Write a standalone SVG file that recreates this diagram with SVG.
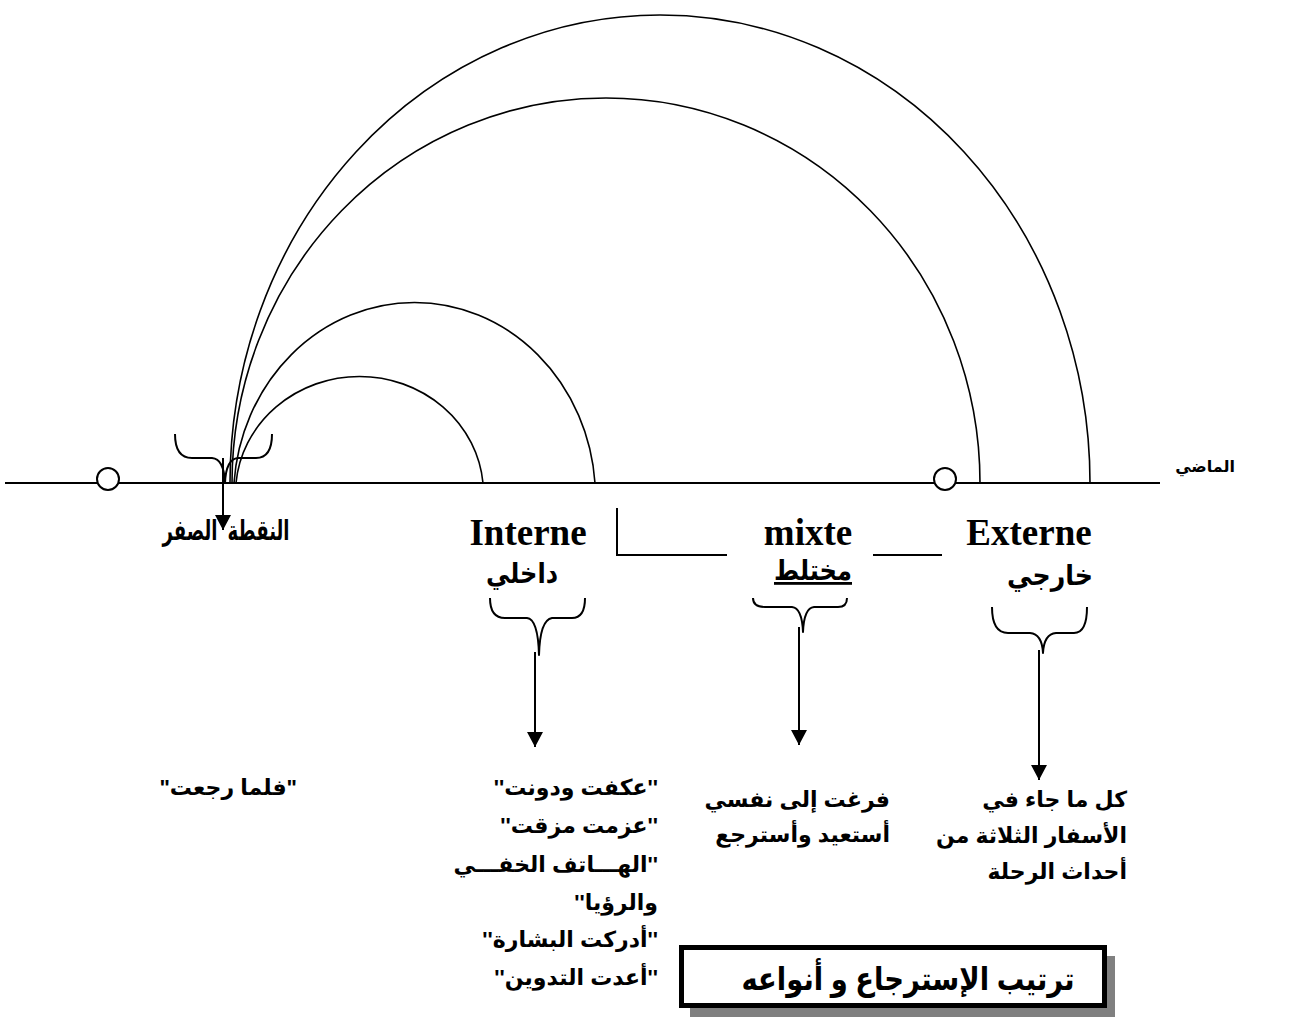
<svg xmlns="http://www.w3.org/2000/svg" width="1296" height="1025" viewBox="0 0 1296 1025">
  <defs>
    <marker id="arrow" markerWidth="16" markerHeight="16" refX="15" refY="8" orient="auto" markerUnits="userSpaceOnUse" viewBox="0 0 16 16">
      <path d="M0,0 L15,8 L0,16 Z" fill="#000"/>
    </marker>
    <style>
      .line { fill: none; stroke: #000; stroke-width: 2; }
      .arc { fill: none; stroke: #000; stroke-width: 1.6; }
      .brace { fill: none; stroke: #000; stroke-width: 2; stroke-linejoin: round; }
      .arr { fill: none; stroke: #000; stroke-width: 2; }
      .dot { fill: #fff; stroke: #000; stroke-width: 2; }
      .lat { font-family: "Liberation Serif", "Times New Roman", serif; font-weight: bold; font-size: 37px; fill: #000; }
      .ar { font-family: "Liberation Sans", "DejaVu Sans", sans-serif; font-weight: bold; fill: #000; direction: rtl; }
      .lbl { font-size: 28px; }
      .body { font-size: 22px; }
    </style>
  </defs>

  <!-- time axis -->
  <g id="axis">
    <line class="line" x1="5" y1="483" x2="1160" y2="483"/>
    <circle class="dot" cx="108" cy="479" r="11"/>
    <circle class="dot" cx="945" cy="479" r="11"/>
    <text class="ar" x="1235" y="472" font-size="16" text-anchor="start">الماضي</text>
  </g>

  <!-- retrospection arcs from the zero point -->
  <g id="arcs">
    <path class="arc" d="M230,483 A430,468 0 0 1 1090,483"/>
    <path class="arc" d="M232,483 A374,385 0 0 1 980,483"/>
    <path class="arc" d="M234,483 A181,195 0 0 1 595,483"/>
    <path class="arc" d="M236,483 A124,117 0 0 1 483,483"/>
  </g>

  <!-- zero point -->
  <g id="zero">
    <path class="brace" d="M175,434 Q175,458 192,458 L212,458 Q224,459 225,483 Q226,459 238,458 L256,458 Q272,458 272,434"/>
    <text class="ar lbl" x="226" y="540" text-anchor="middle" textLength="127" lengthAdjust="spacingAndGlyphs" xml:space="preserve">النقطة  الصفر</text>
  </g>

  <!-- internal -->
  <g id="interne">
    <text class="lat" x="528" y="545" text-anchor="middle">Interne</text>
    <text class="ar lbl" x="522" y="583" text-anchor="middle" textLength="72" lengthAdjust="spacingAndGlyphs">داخلي</text>
    <path class="brace" d="M490,598 Q490,618 505,618 L527,618 Q538,619 539,655 Q540,620 552,618 L572,618 Q585,618 585,598"/>
  </g>

  <!-- mixed -->
  <g id="mixte">
    <text class="lat" x="808" y="545" text-anchor="middle">mixte</text>
    <text class="ar lbl" x="813" y="580" text-anchor="middle" textLength="78" lengthAdjust="spacingAndGlyphs" style="text-decoration: underline">مختلط</text>
    <path class="line" d="M617,508 L617,555 L727,555"/>
    <line class="line" x1="873" y1="555" x2="942" y2="555"/>
    <path class="brace" d="M753,598 Q753,607 765,607 L792,607 Q802,608 803,632 Q804,608 814,607 L838,607 Q847,607 847,598"/>
  </g>

  <!-- external -->
  <g id="externe">
    <text class="lat" x="1029" y="545" text-anchor="middle">Externe</text>
    <text class="ar lbl" x="1050" y="585" text-anchor="middle" textLength="86" lengthAdjust="spacingAndGlyphs">خارجي</text>
    <path class="brace" d="M992,607 Q992,633 1008,633 L1030,633 Q1042,634 1043,653 Q1044,634 1056,633 L1074,633 Q1087,633 1087,607"/>
  </g>

  <!-- connectors -->
  <g id="connectors">
    <line class="arr" x1="223" y1="458" x2="223" y2="530" marker-end="url(#arrow)"/>
    <line class="arr" x1="535" y1="652" x2="535" y2="747" marker-end="url(#arrow)"/>
    <line class="arr" x1="799" y1="627" x2="799" y2="745" marker-end="url(#arrow)"/>
    <line class="arr" x1="1039" y1="650" x2="1039" y2="780" marker-end="url(#arrow)"/>
  </g>

  <!-- examples -->
  <g id="ex-zero">
    <text class="ar body" x="297" y="795" text-anchor="start">"فلما رجعت"</text>
  </g>
  <g id="ex-interne">
    <text class="ar body" x="658" y="795" text-anchor="start">''عكفت ودونت''</text>
    <text class="ar body" x="658" y="833" text-anchor="start">''عزمت مزقت''</text>
    <text class="ar body" x="658" y="872" text-anchor="start">''الهـــاتف الخفـــي</text>
    <text class="ar body" x="658" y="910" text-anchor="start">والرؤيا''</text>
    <text class="ar body" x="658" y="947" text-anchor="start">''أدركت البشارة''</text>
    <text class="ar body" x="658" y="985" text-anchor="start">''أعدت التدوين''</text>
  </g>
  <g id="ex-mixte">
    <text class="ar body" x="890" y="807" text-anchor="start">فرغت إلى نفسي</text>
    <text class="ar body" x="890" y="842" text-anchor="start">أستعيد وأسترجع</text>
  </g>
  <g id="ex-externe">
    <text class="ar body" x="1127" y="807" text-anchor="start">كل ما جاء في</text>
    <text class="ar body" x="1127" y="843" text-anchor="start">الأسفار الثلاثة من</text>
    <text class="ar body" x="1127" y="879" text-anchor="start">أحداث الرحلة</text>
  </g>

  <!-- title -->
  <g id="title">
    <rect x="690" y="956" width="425" height="61" fill="#808080"/>
    <rect x="681.5" y="947.5" width="423" height="58" fill="#fff" stroke="#000" stroke-width="5"/>
    <text class="ar" x="908" y="990" text-anchor="middle" font-size="32" textLength="333" lengthAdjust="spacingAndGlyphs">ترتيب الإسترجاع و أنواعه</text>
  </g>
</svg>
